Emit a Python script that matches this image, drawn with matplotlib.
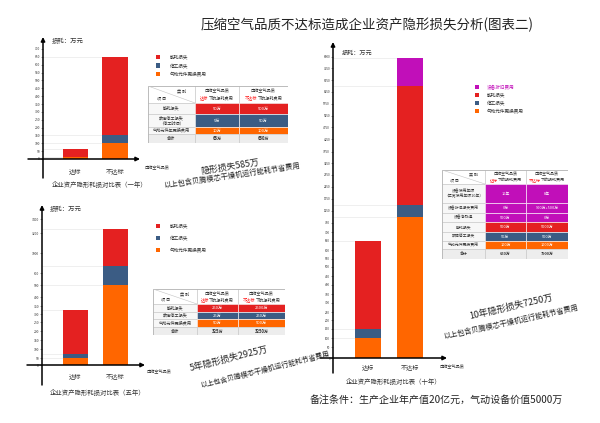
import numpy as np
import matplotlib
matplotlib.use('Agg')
import matplotlib.pyplot as plt
from matplotlib.patches import Rectangle

plt.rcParams['font.family'] = ['Noto Sans CJK SC', 'DejaVu Sans']

# ---------------- data ----------------
categories = ['达标', '不达标']
legend_basic = ['能耗损失', '停工损失', '气动元件更换费用']
legend_ten = ['设备折旧费用', '能耗损失', '停工损失', '气动元件更换费用']

# one year (万元)
y1_parts = [10, 100]
y1_stop = [5, 50]
y1_energy = [50, 500]
# five years
y5_parts = [50, 500]
y5_stop = [25, 250]
y5_energy = [250, 2500]
# ten years
y10_parts = [100, 1000]
y10_stop = [50, 500]
y10_energy = [500, 5000]
y10_depr = [0, 1400]

ticks1 = list(range(0, 701, 50))
ticks5 = [0, 50, 100, 150, 200, 250, 300, 350, 400, 500, 600, 1000, 3200, 3400]
ticks10 = list(range(0, 701, 50)) + [750, 1250, 1750, 2250, 2750, 3250, 3750,
                                     4250, 4750, 5250, 5750, 6250, 6750, 7250, 8000]

t1_rows = ['能耗损失', '故障停工损失\n（停工时间）', '气动元件年更换费用', '合计']
t1_pass = ['50万', '5万', '10万', '65万']
t1_fail = ['500万', '50万', '100万', '650万']

t5_rows = ['能耗损失', '故障停工损失', '气动元件更换费用', '合计']
t5_pass = ['250万', '25万', '50万', '325万']
t5_fail = ['2500万', '250万', '500万', '3250万']

t10_rows = ['设备使用年限\n（正常使用年限10年）', '设备折旧损失费用', '设备净残值',
            '能耗损失', '故障停工损失', '气动元件更换费用', '合计']
t10_pass = ['10年', '0万', '500万', '500万', '50万', '100万', '650万']
t10_fail = ['8年', '900万+500万', '0万', '5000万', '500万', '1000万', '7900万']

main_title = '压缩空气品质不达标造成企业资产隐形损失分析(图表二)'
titles = ['企业资产隐形耗损对比表（一年）', '企业资产隐形耗损对比表（五年）', '企业资产隐形耗损对比表（十年）']
ann_big = ['隐形损失585万', '5年隐形损失2925万', '10年隐形损失7250万']
ann_small = '以上包含贝腾模芯干燥机运行能耗节省费用'
note = '备注条件：生产企业年产值20亿元，气动设备价值5000万'

# ---------------- style ----------------
C_ORANGE = '#ff6600'
C_BLUE = '#3b5c84'
C_RED = '#e42121'
C_PURPLE = '#c10fb9'
C_TOTAL = '#ededed'
TXT = '#333333'

W, H = 600, 423
fig = plt.figure(figsize=(6, 4.23), dpi=100)
fig.patch.set_facecolor('white')


def T(x, y, s, fs, **kw):
    kw.setdefault('color', TXT)
    kw.setdefault('va', 'center')
    fig.text(x / W, 1 - y / H, s, fontsize=fs, **kw)


def make_scale(vals, hts):
    v = np.asarray(vals, float)
    h = np.asarray(hts, float)
    s0 = (h[1] - h[0]) / (v[1] - v[0])
    s1 = (h[-1] - h[-2]) / (v[-1] - v[-2])
    v = np.concatenate([[v[0] - 1e6], v, [v[-1] + 1e6]])
    h = np.concatenate([[h[0] - 1e6 * s0], h, [h[-1] + 1e6 * s1]])
    return (lambda x: np.interp(x, v, h)), (lambda y: np.interp(y, h, v))


def draw_chart(box, centers, bar_w, stacks, colors, scale_vals, scale_hts,
               ticks, tick_fs, ybot, xleft, xpad, xfs):
    l, t, r, b = box
    ax = fig.add_axes([l / W, 1 - b / H, (r - l) / W, (b - t) / H])
    ax.patch.set_alpha(0)
    unit = centers[1] - centers[0]
    x0, x1 = (l - centers[0]) / unit, (r - centers[0]) / unit
    ax.set_xlim(x0, x1)
    fwd, inv = make_scale(scale_vals, scale_hts)
    ax.set_yscale('function', functions=(fwd, inv))
    ax.set_ylim(0, float(inv(b - t)))
    x = np.arange(len(categories))
    w = bar_w / unit
    bottom = np.zeros(len(categories))
    for vals, col in zip(stacks, colors):
        vals = np.asarray(vals, float)
        ax.bar(x, vals, w, bottom=bottom, color=col, zorder=2, linewidth=0)
        bottom = bottom + vals
    cum = np.cumsum(np.asarray(stacks, float), axis=0)
    for i in range(len(categories)):
        for tv in np.unique(cum[:, i]):
            ax.plot([x0, x[i] - w / 2], [tv, tv], color='#ececec', lw=0.6, zorder=1)
    for s in ax.spines.values():
        s.set_visible(False)
    ax.set_yticks(ticks)
    ax.set_yticklabels([str(v) for v in ticks])
    ax.yaxis.set_minor_locator(matplotlib.ticker.NullLocator())
    ax.tick_params(axis='y', length=1.5, width=0.4, labelsize=tick_fs, pad=0.6,
                   color='#555555', labelcolor=TXT)
    ax.set_xticks(x)
    ax.set_xticklabels(categories)
    ax.tick_params(axis='x', length=0, labelsize=xfs, pad=xpad, labelcolor=TXT)
    yb = -(ybot - b) / (b - t)
    xl = -(l - xleft) / (r - l)
    arrow = dict(arrowstyle='-|>', color='black', lw=1.1, mutation_scale=6,
                 shrinkA=0, shrinkB=0)
    ax.annotate('', xy=(0, 1), xycoords='axes fraction', xytext=(0, yb),
                textcoords='axes fraction', arrowprops=arrow, annotation_clip=False, zorder=5)
    ax.annotate('', xy=(1, 0), xycoords='axes fraction', xytext=(xl, 0),
                textcoords='axes fraction', arrowprops=arrow, annotation_clip=False, zorder=5)
    return ax


def draw_legend(x_sq, x_txt, ys, labels, colors, fs, txtcolors=None):
    s = 4.5
    for k, (lab, c) in enumerate(zip(labels, colors)):
        y = ys[k]
        fig.add_artist(Rectangle(((x_sq - s / 2) / W, 1 - (y + s / 2) / H), s / W, s / H,
                                 transform=fig.transFigure, color=c, lw=0))
        tc = txtcolors[k] if txtcolors else TXT
        T(x_txt, y, lab, fs, color=tc, ha='left')


def draw_table(x0, y0, col_w, row_h, row_labels, c_pass, c_fail, fills, fs, hfs):
    Wt, Ht = sum(col_w), sum(row_h)
    ax = fig.add_axes([x0 / W, 1 - (y0 + Ht) / H, Wt / W, Ht / H])
    ax.set_xlim(0, Wt)
    ax.set_ylim(Ht, 0)
    ax.axis('off')
    xs = np.concatenate([[0], np.cumsum(col_w)])
    ys = np.concatenate([[0], np.cumsum(row_h)])
    edge = '#c4c4c4'
    h0 = row_h[0]
    for j in range(3):
        ax.add_patch(Rectangle((xs[j], 0), col_w[j], h0, fc='white', ec=edge, lw=0.4))
    ax.plot([0, xs[1]], [0, h0], color=edge, lw=0.4)
    ax.text(col_w[0] * 0.72, h0 * 0.3, '类 别', fontsize=hfs, ha='center', va='center', color=TXT)
    ax.text(col_w[0] * 0.28, h0 * 0.72, '项 目', fontsize=hfs, ha='center', va='center', color=TXT)
    em = hfs * 100 / 72
    for j, red in zip([1, 2], ['达标', '不达标']):
        cx = (xs[j] + xs[j + 1]) / 2
        ax.text(cx, h0 * 0.32, '压缩空气品质', fontsize=hfs, ha='center', va='center', color=TXT)
        n = len(red) + 6
        sx = cx - n * em / 2
        ax.text(sx, h0 * 0.72, red, fontsize=hfs, ha='left', va='center', color='#ff1a1a')
        ax.text(sx + len(red) * em, h0 * 0.72, '下的损耗费用', fontsize=hfs,
                ha='left', va='center', color=TXT)
    nrow = len(row_labels)
    for i in range(nrow):
        yt = ys[i + 1]
        hh = row_h[i + 1]
        total = (i == nrow - 1)
        lab_fc = C_TOTAL if total else '#f7f7f7'
        ax.add_patch(Rectangle((0, yt), col_w[0], hh, fc=lab_fc, ec=edge, lw=0.4))
        ax.text(col_w[0] / 2, yt + hh / 2, row_labels[i], fontsize=fs, ha='center',
                va='center', color=TXT, fontweight='bold' if total else 'normal',
                linespacing=1.1)
        for j, val in zip([1, 2], [c_pass[i], c_fail[i]]):
            fc = C_TOTAL if total else fills[i]
            ax.add_patch(Rectangle((xs[j], yt), col_w[j], hh, fc=fc,
                                   ec=edge if total else 'white', lw=0.4))
            ax.text((xs[j] + xs[j + 1]) / 2, yt + hh / 2, val, fontsize=fs, ha='center',
                    va='center', color=TXT if total else 'white',
                    fontweight='bold' if total else 'normal')
    ax.add_patch(Rectangle((0, 0), Wt, Ht, fc='none', ec='#b0b0b0', lw=0.5))


# ---------------- title ----------------
T(367, 25, main_title, 9.7, ha='center', color='#222222')

# ---------------- chart 1: one year ----------------
draw_chart((43, 37, 140, 159), (75.5, 115), 25.5,
           [y1_parts, y1_stop, y1_energy], [C_ORANGE, C_BLUE, C_RED],
           [0, 700], [0, 110], ticks1, 2.4, 178, 28, 6.0, 4.5)
T(52, 41, '损耗：万元', 4.6, ha='left')
T(100, 185, titles[0], 4.6, ha='center')
T(145, 168, '压缩空气品质', 3.0, ha='left')
draw_legend(158, 170, [57, 65.5, 74], legend_basic, [C_RED, C_BLUE, C_ORANGE], 3.3)
draw_table(148, 86, [47, 44, 49], [17, 11, 13, 7, 9], t1_rows, t1_pass, t1_fail,
           [C_RED, C_BLUE, C_ORANGE], 3.0, 3.0)
fig.text(230 / W, 1 - 167 / H, ann_big[0], fontsize=6.4, rotation=9, rotation_mode='anchor',
         ha='center', va='center', color='#222222')
fig.text(232 / W, 1 - 176 / H, ann_small, fontsize=5.2, rotation=8.5, rotation_mode='anchor',
         ha='center', va='center', color='#222222')

# ---------------- chart 2: five years ----------------
h5 = [0, 7, 16, 25, 34, 43, 51, 59, 68, 80, 92, 112, 132, 146]
draw_chart((42, 205, 145, 365), (75.5, 115.5), 25.5,
           [y5_parts, y5_stop, y5_energy], [C_ORANGE, C_BLUE, C_RED],
           ticks5, h5, ticks5, 2.4, 385, 27, 5.4, 4.5)
T(50, 209, '损耗：万元', 4.6, ha='left')
T(98, 393, titles[1], 4.6, ha='center')
T(147, 372, '压缩空气品质', 3.0, ha='left')
draw_legend(158, 170, [226, 238, 250], legend_basic, [C_RED, C_BLUE, C_ORANGE], 3.3)
draw_table(153, 289, [44, 41, 47], [15, 8, 7, 8, 8], t5_rows, t5_pass, t5_fail,
           [C_RED, C_BLUE, C_ORANGE], 3.0, 3.0)
fig.text(229 / W, 1 - 359 / H, ann_big[1], fontsize=6.6, rotation=14, rotation_mode='anchor',
         ha='center', va='center', color='#222222')
fig.text(265 / W, 1 - 370 / H, ann_small, fontsize=5.0, rotation=14, rotation_mode='anchor',
         ha='center', va='center', color='#222222')

# ---------------- chart 3: ten years ----------------
h10 = [0, 11, 20, 29, 38, 46, 55, 64, 73, 82, 91, 99, 108, 117, 126,
       135.3, 147.3, 159, 171.3, 183, 194.7, 206.3, 218.7, 230.7, 242.3, 254.3,
       266.3, 278, 290, 301.3]
draw_chart((333, 42, 447, 358), (368, 410), 26,
           [y10_parts, y10_stop, y10_energy, y10_depr], [C_ORANGE, C_BLUE, C_RED, C_PURPLE],
           ticks10, h10, ticks10, 2.2, 373, 320, 3.4, 4.4)
T(342, 53, '损耗：万元', 4.4, ha='left')
T(394, 382, titles[2], 4.6, ha='center')
T(440, 367, '压缩空气品质', 3.0, ha='left')
draw_legend(477, 487, [87, 95, 103, 111], legend_ten, [C_PURPLE, C_RED, C_BLUE, C_ORANGE], 3.3,
            txtcolors=[C_PURPLE, TXT, TXT, TXT])
draw_table(442, 170, [43, 41, 42], [14, 19, 10, 9, 10, 9, 8, 10], t10_rows, t10_pass, t10_fail,
           [C_PURPLE, C_PURPLE, C_PURPLE, C_RED, C_BLUE, C_ORANGE], 2.8, 2.9)
fig.text(511 / W, 1 - 307 / H, ann_big[2], fontsize=6.6, rotation=13, rotation_mode='anchor',
         ha='center', va='center', color='#222222')
fig.text(511 / W, 1 - 322 / H, ann_small, fontsize=5.2, rotation=12.4, rotation_mode='anchor',
         ha='center', va='center', color='#222222')

T(436, 400, note, 7.2, ha='center', color='#222222')

fig.savefig('out.png', dpi=100, facecolor='white')
